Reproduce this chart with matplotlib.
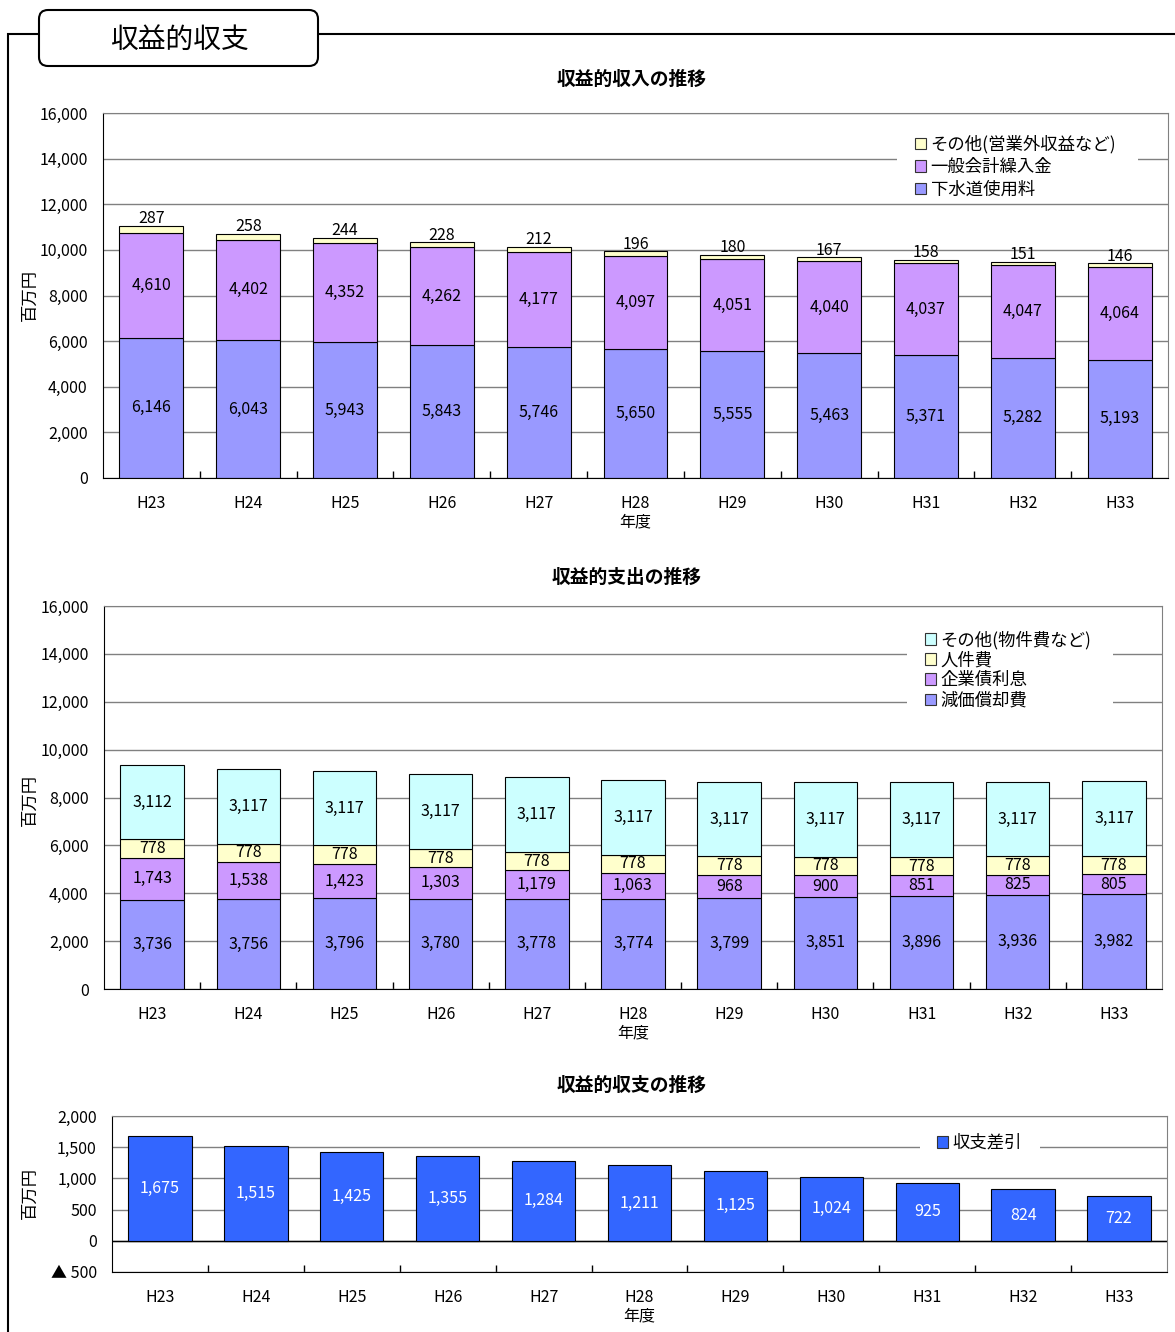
import matplotlib
matplotlib.use('Agg')
import matplotlib.pyplot as plt
import matplotlib.ticker as mticker
from matplotlib.patches import Patch, FancyBboxPatch, Rectangle

plt.rcParams['font.family'] = ['Noto Sans CJK JP', 'DejaVu Sans']

# ---- data (百万円) ----
years = ['H23', 'H24', 'H25', 'H26', 'H27', 'H28', 'H29', 'H30', 'H31', 'H32', 'H33']
tick_labels = ['H23', 'H24', 'H25', 'H26', 'H27', 'H28\n年度', 'H29', 'H30', 'H31', 'H32', 'H33']

# 収益的収入
sewer_fee = [6146, 6043, 5943, 5843, 5746, 5650, 5555, 5463, 5371, 5282, 5193]
general_transfer = [4610, 4402, 4352, 4262, 4177, 4097, 4051, 4040, 4037, 4047, 4064]
income_other = [287, 258, 244, 228, 212, 196, 180, 167, 158, 151, 146]

# 収益的支出
depreciation = [3736, 3756, 3796, 3780, 3778, 3774, 3799, 3851, 3896, 3936, 3982]
bond_interest = [1743, 1538, 1423, 1303, 1179, 1063, 968, 900, 851, 825, 805]
personnel = [778, 778, 778, 778, 778, 778, 778, 778, 778, 778, 778]
expense_other = [3112, 3117, 3117, 3117, 3117, 3117, 3117, 3117, 3117, 3117, 3117]

# 収益的収支
balance = [1675, 1515, 1425, 1355, 1284, 1211, 1125, 1024, 925, 824, 722]

C_SEWER = '#9999FF'
C_GENERAL = '#CC99FF'
C_YELLOW = '#FFFFCC'
C_CYAN = '#CCFFFF'
C_BLUE = '#3366FF'

W, H = 1175, 1332
fig = plt.figure(figsize=(W / 100, H / 100), dpi=100)


def rect_px(l, t, r, b):
    return [l / W, 1 - b / H, (r - l) / W, (b - t) / H]


# ---- page frame and heading box ----
bg = fig.add_axes([0, 0, 1, 1], zorder=-5)
bg.set_xlim(0, W)
bg.set_ylim(H, 0)
bg.axis('off')
bg.plot([8, 8, W], [H, 34, 34], color='black', lw=1.5, solid_joinstyle='miter')
bg.add_patch(FancyBboxPatch((39, 10), 279, 56, boxstyle='round,pad=0,rounding_size=9',
                            facecolor='white', edgecolor='black', lw=1.5, zorder=3))
bg.text(179, 40, '収益的収支', ha='center', va='center', fontsize=20, zorder=4)

FS = 11.5
x = list(range(len(years)))
BW = 0.66


def style(ax, ymin, ymax, step, fmt):
    ax.set_xlim(-0.5, 10.5)
    ax.set_ylim(ymin, ymax)
    ax.set_yticks(list(range(ymin, ymax + 1, step)))
    ax.yaxis.set_major_formatter(mticker.FuncFormatter(fmt))
    ax.set_axisbelow(True)
    ax.grid(axis='y', color='#808080', lw=1)
    ax.set_xticks(x)
    ax.set_xticklabels(tick_labels)
    ax.set_xticks([i + 0.5 for i in range(10)], minor=True)
    ax.tick_params(axis='x', which='major', length=0, pad=12, labelsize=FS)
    ax.tick_params(axis='x', which='minor', direction='in', length=5, width=1)
    ax.tick_params(axis='y', length=0, pad=11, labelsize=FS)
    for s in ['top', 'right']:
        ax.spines[s].set_color('#808080')
    for s in ['left', 'bottom']:
        ax.spines[s].set_color('black')
    for lab in ax.get_xticklabels():
        lab.set_linespacing(1.1)


def legend_block(ax, handles, labels, box, anchor, spacing):
    ax.add_patch(Rectangle((box[0], box[1]), box[2] - box[0], box[3] - box[1],
                           transform=ax.transAxes, facecolor='white', edgecolor='none', zorder=3))
    ax.legend(handles, labels, loc='center left', bbox_to_anchor=anchor, frameon=False,
              fontsize=12.5, handlelength=0.65, handleheight=0.65, handletextpad=0.25,
              labelspacing=spacing, borderpad=0, borderaxespad=0)


def comma(v, _pos=None):
    return f'{v:,.0f}'


# ---- 収益的収入の推移 ----
ax1 = fig.add_axes(rect_px(103, 113, 1168, 478))
style(ax1, 0, 16000, 2000, comma)
b1 = list(sewer_fee)
b2 = [a + b for a, b in zip(sewer_fee, general_transfer)]
ax1.bar(x, sewer_fee, BW, color=C_SEWER, edgecolor='black', lw=0.8, zorder=2)
ax1.bar(x, general_transfer, BW, bottom=b1, color=C_GENERAL, edgecolor='black', lw=0.8, zorder=2)
ax1.bar(x, income_other, BW, bottom=b2, color=C_YELLOW, edgecolor='black', lw=0.8, zorder=2)
for i in x:
    ax1.text(i, sewer_fee[i] / 2, f'{sewer_fee[i]:,}', ha='center', va='center', fontsize=FS, zorder=4)
    ax1.text(i, b1[i] + general_transfer[i] / 2, f'{general_transfer[i]:,}', ha='center', va='center',
             fontsize=FS, zorder=4)
    ax1.text(i, b2[i] + income_other[i] - 60, f'{income_other[i]:,}', ha='center', va='bottom',
             fontsize=FS, zorder=4)
ax1.set_ylabel('百万円', fontsize=12.5)
ax1.yaxis.set_label_coords((39 - 103) / 1065, (478 - 295) / 365)
ax1.text((632 - 103) / 1065, 1 + 34 / 365, '収益的収入の推移', transform=ax1.transAxes,
         ha='center', va='center', fontsize=13.5, fontweight='bold')
h1 = [Patch(facecolor=c, edgecolor='#333333', lw=0.8) for c in (C_YELLOW, C_GENERAL, C_SEWER)]
legend_block(ax1, h1, ['その他(営業外収益など)', '一般会計繰入金', '下水道使用料'],
             ((897 - 103) / 1065, (478 - 201) / 365, (1138 - 103) / 1065, (478 - 133) / 365),
             ((915 - 103) / 1065, (478 - 167) / 365), 0.26)

# ---- 収益的支出の推移 ----
ax2 = fig.add_axes(rect_px(104, 606, 1162, 989))
style(ax2, 0, 16000, 2000, comma)
s1 = list(depreciation)
s2 = [a + b for a, b in zip(s1, bond_interest)]
s3 = [a + b for a, b in zip(s2, personnel)]
ax2.bar(x, depreciation, BW, color=C_SEWER, edgecolor='black', lw=0.8, zorder=2)
ax2.bar(x, bond_interest, BW, bottom=s1, color=C_GENERAL, edgecolor='black', lw=0.8, zorder=2)
ax2.bar(x, personnel, BW, bottom=s2, color=C_YELLOW, edgecolor='black', lw=0.8, zorder=2)
ax2.bar(x, expense_other, BW, bottom=s3, color=C_CYAN, edgecolor='black', lw=0.8, zorder=2)
for i in x:
    for base, v in ((0, depreciation[i]), (s1[i], bond_interest[i]),
                    (s2[i], personnel[i]), (s3[i], expense_other[i])):
        ax2.text(i, base + v / 2, f'{v:,}', ha='center', va='center', fontsize=FS, zorder=4)
ax2.set_ylabel('百万円', fontsize=12.5)
ax2.yaxis.set_label_coords((39 - 104) / 1058, (989 - 800) / 383)
ax2.text((627 - 104) / 1058, 1 + 29 / 383, '収益的支出の推移', transform=ax2.transAxes,
         ha='center', va='center', fontsize=13.5, fontweight='bold')
h2 = [Patch(facecolor=c, edgecolor='#333333', lw=0.8) for c in (C_CYAN, C_YELLOW, C_GENERAL, C_SEWER)]
legend_block(ax2, h2, ['その他(物件費など)', '人件費', '企業債利息', '減価償却費'],
             ((907 - 104) / 1058, (989 - 712) / 383, (1113 - 104) / 1058, (989 - 628) / 383),
             ((925 - 104) / 1058, (989 - 670) / 383), 0.12)

# ---- 収益的収支の推移 ----
ax3 = fig.add_axes(rect_px(112, 1116, 1167, 1272))


def tri_fmt(v, _pos=None):
    return f'▲ {abs(v):,.0f}' if v < 0 else f'{v:,.0f}'


style(ax3, -500, 2000, 500, tri_fmt)
ax3.axhline(0, color='black', lw=1, zorder=1)
ax3.bar(x, balance, BW, color=C_BLUE, edgecolor='black', lw=0.8, zorder=2)
for i in x:
    ax3.text(i, balance[i] / 2, f'{balance[i]:,}', ha='center', va='center', fontsize=FS,
             color='white', zorder=4)
ax3.set_ylabel('百万円', fontsize=12.5)
ax3.yaxis.set_label_coords((39 - 112) / 1055, (1272 - 1193) / 156)
ax3.text((632 - 112) / 1055, 1 + 31 / 156, '収益的収支の推移', transform=ax3.transAxes,
         ha='center', va='center', fontsize=13.5, fontweight='bold')
legend_block(ax3, [Patch(facecolor=C_BLUE, edgecolor='#333333', lw=0.8)], ['収支差引'],
             ((920 - 112) / 1055, (1272 - 1155) / 156, (1040 - 112) / 1055, (1272 - 1132) / 156),
             ((937 - 112) / 1055, (1272 - 1143) / 156), 0.26)

fig.savefig('out.png', dpi=100)
